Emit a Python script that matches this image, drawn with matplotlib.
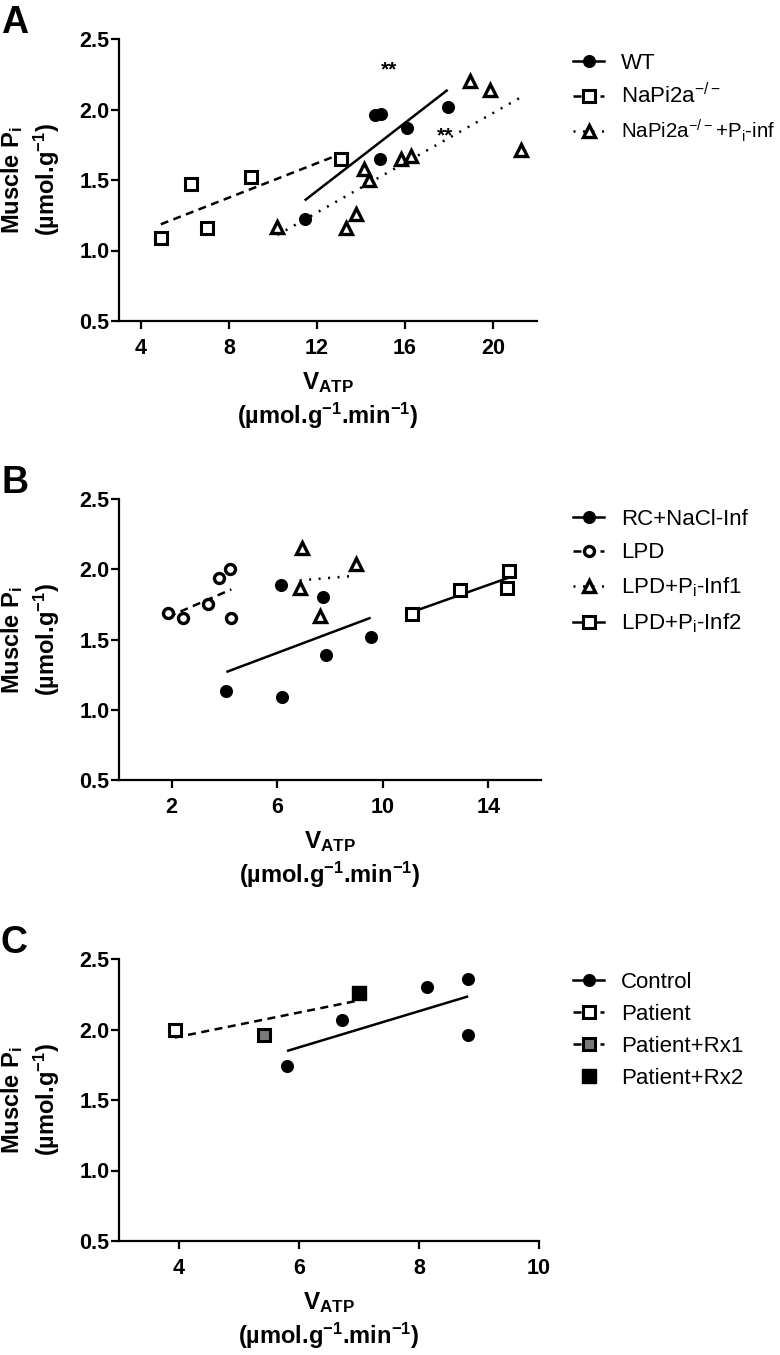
import numpy as np
import matplotlib
matplotlib.use("Agg")
import matplotlib.pyplot as plt
from matplotlib.lines import Line2D

plt.rcParams['font.family'] = ['Liberation Sans', 'DejaVu Sans']
plt.rcParams['mathtext.default'] = 'regular'

# ---- panel A data ----
wt_x = [11.44, 14.62, 14.92, 14.85, 16.08, 17.94]
wt_y = [1.22, 1.96, 1.97, 1.65, 1.87, 2.02]
ko_x = [4.90, 6.26, 6.99, 8.99, 13.10]
ko_y = [1.09, 1.47, 1.16, 1.52, 1.65]
koinf_x = [10.20, 13.33, 13.76, 14.14, 14.38, 15.80, 16.29, 18.95, 19.85, 21.27]
koinf_y = [1.17, 1.16, 1.26, 1.58, 1.50, 1.65, 1.67, 2.20, 2.14, 1.71]
a_stars_x = [15.27, 17.80]
a_stars_y = [2.28, 1.81]
a_labels = ['WT', 'NaPi2a$^{-/-}$', 'NaPi2a$^{-/-}$+P$_{i}$-inf']
a_xticks = [4, 8, 12, 16, 20]

# ---- panel B data ----
rc_x = [4.07, 6.19, 6.15, 7.73, 7.86, 9.54]
rc_y = [1.13, 1.09, 1.89, 1.80, 1.39, 1.52]
lpd_x = [1.86, 2.43, 3.38, 3.79, 4.20, 4.26]
lpd_y = [1.69, 1.65, 1.75, 1.94, 2.00, 1.65]
inf1_x = [6.95, 6.85, 7.63, 8.97]
inf1_y = [2.15, 1.87, 1.67, 2.04]
inf2_x = [11.12, 12.91, 14.80, 14.72]
inf2_y = [1.68, 1.85, 1.99, 1.87]
b_labels = ['RC+NaCl-Inf', 'LPD', 'LPD+P$_{i}$-Inf1', 'LPD+P$_{i}$-Inf2']
b_xticks = [2, 6, 10, 14]

# ---- panel C data ----
ctrl_x = [5.80, 6.72, 8.13, 8.82, 8.82]
ctrl_y = [1.74, 2.07, 2.30, 2.36, 1.96]
pat_x = [3.93]
pat_y = [2.00]
rx1_x = [5.42]
rx1_y = [1.96]
rx2_x = [7.00]
rx2_y = [2.26]
c_labels = ['Control', 'Patient', 'Patient+Rx1', 'Patient+Rx2']
c_xticks = [4, 6, 8, 10]

yticks = [0.5, 1.0, 1.5, 2.0, 2.5]

W, H = 780, 1355
fig = plt.figure(figsize=(W / 100, H / 100), dpi=100)


def add_ax(top, bottom, left=119, right=539):
    return fig.add_axes([left / W, 1 - bottom / H, (right - left) / W, (bottom - top) / H])


LW = 1.8
DASH = (0, (3.2, 2.2))
DOT = (0, (0.8, 3.0))


def fit_line(ax, x, y, ls):
    x = np.asarray(x)
    y = np.asarray(y)
    k, b = np.polyfit(x, y, 1)
    xx = np.array([x.min(), x.max()])
    ax.plot(xx, k * xx + b, color='k', lw=LW, ls=ls, zorder=2,
            dash_capstyle='butt', solid_capstyle='butt')


def style(ax, xlim, xticks):
    ax.set_xlim(*xlim)
    ax.set_ylim(0.5, 2.5)
    ax.set_xticks(xticks)
    ax.set_yticks(yticks)
    ax.set_yticklabels(['%.1f' % v for v in yticks])
    for s in ['top', 'right']:
        ax.spines[s].set_visible(False)
    for s in ['left', 'bottom']:
        ax.spines[s].set_linewidth(1.6)
    ax.tick_params(axis='both', width=1.6, length=6, labelsize=15.5)
    ax.tick_params(axis='x', pad=6)
    ax.tick_params(axis='y', pad=1)
    for t in ax.get_xticklabels() + ax.get_yticklabels():
        t.set_fontweight('bold')
    # pixel offsets below the x axis
    h = ax.get_position().height * H
    ax.text(0.5, -62 / h, 'V$_{ATP}$', transform=ax.transAxes, ha='center', va='center',
            fontsize=17.5, fontweight='bold')
    ax.text(0.5, -95 / h, '(\u00b5mol.g$^{-1}$.min$^{-1}$)', transform=ax.transAxes,
            ha='center', va='center', fontsize=17, fontweight='bold')


def ylab(top, bottom):
    yc = 1 - (top + bottom) / 2 / H
    fig.text(12 / W, yc, 'Muscle P$_{i}$', rotation=90, ha='center', va='center',
             fontsize=17, fontweight='bold')
    fig.text(47 / W, yc, '(\u00b5mol.g$^{-1}$)', rotation=90, ha='center', va='center',
             fontsize=17, fontweight='bold')


def leg(ax, handles, labels, x, y, spacing):
    return ax.legend(handles, labels, loc='upper left', bbox_to_anchor=(x, y), frameon=False,
                     fontsize=16, handlelength=1.4, handletextpad=0.75, borderpad=0,
                     borderaxespad=0, labelspacing=spacing)


mk_fill = dict(ls='none', marker='o', ms=8.4, mfc='k', mec='k', color='k', zorder=3)
mk_sq = dict(ls='none', marker='s', ms=8.2, mfc='white', mec='k', mew=2.2, zorder=3)
mk_tri = dict(ls='none', marker='^', ms=8.5, mfc='white', mec='k', mew=2.4, zorder=3)
mk_oc = dict(ls='none', marker='o', ms=7.2, mfc='white', mec='k', mew=2.4, zorder=3)

# ---------------- A ----------------
axA = add_ax(39, 321, right=537)
fit_line(axA, wt_x, wt_y, '-')
fit_line(axA, ko_x, ko_y, DASH)
fit_line(axA, koinf_x, koinf_y, DOT)
axA.plot(wt_x, wt_y, **mk_fill)
axA.plot(ko_x, ko_y, **mk_sq)
axA.plot(koinf_x, koinf_y, **mk_tri)
for sx, sy in zip(a_stars_x, a_stars_y):
    axA.text(sx, sy, '**', ha='center', va='center', fontsize=15, fontweight='bold')
style(axA, (3, 22), a_xticks)
ylab(39, 321)
hA = [Line2D([], [], color='k', lw=LW, ls='-', marker='o', ms=8.4, mfc='k'),
      Line2D([], [], color='k', lw=LW, ls=DASH, marker='s', ms=8.2, mfc='white', mew=2.2),
      Line2D([], [], color='k', lw=LW, ls=DOT, marker='^', ms=8.5, mfc='white', mew=2.4)]
lgA = leg(axA, hA, a_labels, (573 - 119) / 418, 0.95, 0.42)
lgA.get_texts()[2].set_fontsize(14.8)

# ---------------- B ----------------
axB = add_ax(499, 780, right=541)
fit_line(axB, rc_x, rc_y, '-')
fit_line(axB, lpd_x, lpd_y, DASH)
fit_line(axB, inf1_x, inf1_y, DOT)
fit_line(axB, inf2_x, inf2_y, '-')
axB.plot(rc_x, rc_y, **mk_fill)
axB.plot(lpd_x, lpd_y, **mk_oc)
axB.plot(inf1_x, inf1_y, **mk_tri)
axB.plot(inf2_x, inf2_y, **mk_sq)
style(axB, (0, 16), b_xticks)
ylab(499, 780)
hB = [Line2D([], [], color='k', lw=LW, ls='-', marker='o', ms=8.4, mfc='k'),
      Line2D([], [], color='k', lw=LW, ls=DASH, marker='o', ms=7.2, mfc='white', mew=2.4),
      Line2D([], [], color='k', lw=LW, ls=DOT, marker='^', ms=8.5, mfc='white', mew=2.4),
      Line2D([], [], color='k', lw=LW, ls='-', marker='s', ms=8.2, mfc='white', mew=2.2)]
leg(axB, hB, b_labels, (573 - 119) / 422, 0.965, 0.56)

# ---------------- C ----------------
axC = add_ax(959, 1241, right=539)
fit_line(axC, ctrl_x, ctrl_y, '-')
fit_line(axC, pat_x + rx1_x + rx2_x, pat_y + rx1_y + rx2_y, DASH)
axC.plot(ctrl_x, ctrl_y, **mk_fill)
axC.plot(pat_x, pat_y, **mk_sq)
axC.plot(rx1_x, rx1_y, ls='none', marker='s', ms=8.2, mfc='#7a7a7a', mec='k', mew=2.2, zorder=3)
axC.plot(rx2_x, rx2_y, ls='none', marker='s', ms=10.5, mfc='k', mec='k', zorder=3)
style(axC, (3, 10), c_xticks)
ylab(959, 1241)
hC = [Line2D([], [], color='k', lw=LW, ls='-', marker='o', ms=8.4, mfc='k'),
      Line2D([], [], color='k', lw=LW, ls=DASH, marker='s', ms=8.2, mfc='white', mew=2.2),
      Line2D([], [], color='k', lw=LW, ls=DASH, marker='s', ms=8.2, mfc='#7a7a7a', mew=2.2),
      Line2D([], [], color='k', ls='none', marker='s', ms=10.5, mfc='k')]
leg(axC, hC, c_labels, (573 - 119) / 420, 0.955, 0.5)

# panel letters
for lab, top in [('A', 5), ('B', 465), ('C', 925)]:
    fig.text(1 / W, 1 - top / H, lab, ha='left', va='top', fontsize=27, fontweight='bold')

fig.savefig('out.png', dpi=100)
